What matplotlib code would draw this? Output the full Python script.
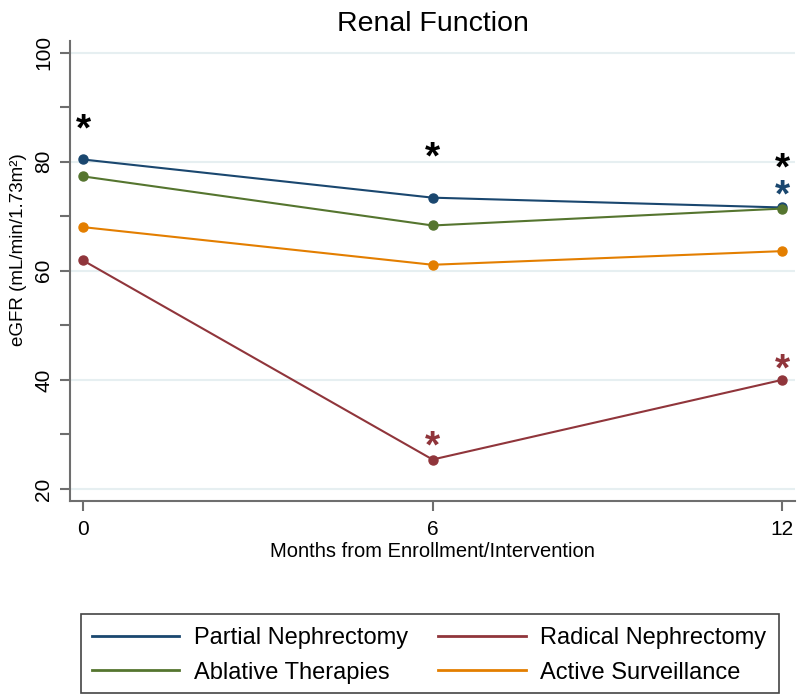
import matplotlib
matplotlib.use("Agg")
import matplotlib.pyplot as plt
from matplotlib.patches import Rectangle

plt.rcParams['font.family'] = ['Liberation Sans', 'DejaVu Sans']

# ---- data ----
months = [0, 6, 12]
series_names = ["Partial Nephrectomy", "Radical Nephrectomy",
                "Ablative Therapies", "Active Surveillance"]
partial = [80.4, 73.4, 71.6]
radical = [61.9, 25.4, 40.0]
ablative = [77.3, 68.3, 71.4]
active = [68.0, 61.1, 63.6]
colors = ["#1a476f", "#90353b", "#55752f", "#e37e00"]

# significance asterisks: x, y, color
star_x = [0, 6, 12, 12, 6, 12]
star_y = [87.2, 82.1, 80.0, 75.2, 29.2, 43.2]
star_c = ["black", "black", "black", "#1a476f", "#90353b", "#90353b"]

yticks = [20, 40, 60, 80, 100]
yminor = [30, 50, 70, 90]

fig = plt.figure(figsize=(8, 7), dpi=100)
ax = fig.add_axes([0.0875, 0.2843, 0.90625, 0.657])

values = [partial, radical, ablative, active]
handles = {}
for name, vals, c in zip(series_names, values, colors):
    h, = ax.plot(months, vals, color=c, lw=1.5, marker='o', ms=6.5,
                 label=name, zorder=3)
    handles[name] = h

fs_star = 28
for x, y, c in zip(star_x, star_y, star_c):
    ax.annotate('*', xy=(x, y), xytext=(0, -0.47 * fs_star),
                textcoords='offset points', ha='center', va='baseline',
                fontsize=fs_star, color=c, fontweight='bold', zorder=4)

ax.set_xlim(-0.223, 12.22)
ax.set_ylim(17.8, 102.1)
ax.set_xticks(months)
ax.set_yticks(yticks)
ax.set_yticks(yminor, minor=True)
ax.yaxis.grid(True, which='major', color='#e6eff1', lw=1.5, zorder=0)
ax.set_axisbelow(True)

for s in ['top', 'right']:
    ax.spines[s].set_visible(False)
for s in ['left', 'bottom']:
    ax.spines[s].set_color('#6e6e6e')
    ax.spines[s].set_linewidth(1.5)

ax.tick_params(axis='both', which='both', color='#6e6e6e', width=1.5,
               length=7, labelsize=15, labelcolor='black')
ax.tick_params(axis='y', which='major', pad=5)
ax.tick_params(axis='x', which='major', pad=7)
for lab in ax.get_yticklabels():
    lab.set_rotation(90)
    lab.set_va('center')

ax.set_title("Renal Function", fontsize=20.5, pad=7)
ax.set_xlabel("Months from Enrollment/Intervention", fontsize=14.5, labelpad=2)
ax.set_ylabel("eGFR (mL/min/1.73m²)", fontsize=13.5)
ax.yaxis.set_label_coords(-0.059, 0.546)

# legend (row-wise order like the reference)
order = ["Partial Nephrectomy", "Ablative Therapies",
         "Radical Nephrectomy", "Active Surveillance"]
leg = fig.legend(handles=[handles[n] for n in order], labels=order, ncol=2,
                 loc='upper left', bbox_to_anchor=(92 / 800, 1 - 627 / 700),
                 frameon=False, fontsize=17, handlelength=3.7,
                 handletextpad=0.6, columnspacing=1.3, labelspacing=0.54,
                 borderpad=0, borderaxespad=0)
for lh in leg.get_lines():
    lh.set_marker('')
    lh.set_linewidth(2)

fig.patches.append(Rectangle((81 / 800, 1 - 693 / 700), (779 - 81) / 800,
                             (693 - 614) / 700, transform=fig.transFigure,
                             fill=False, edgecolor='#444444', lw=1.2))

fig.savefig("out.png", dpi=100, facecolor='white')
